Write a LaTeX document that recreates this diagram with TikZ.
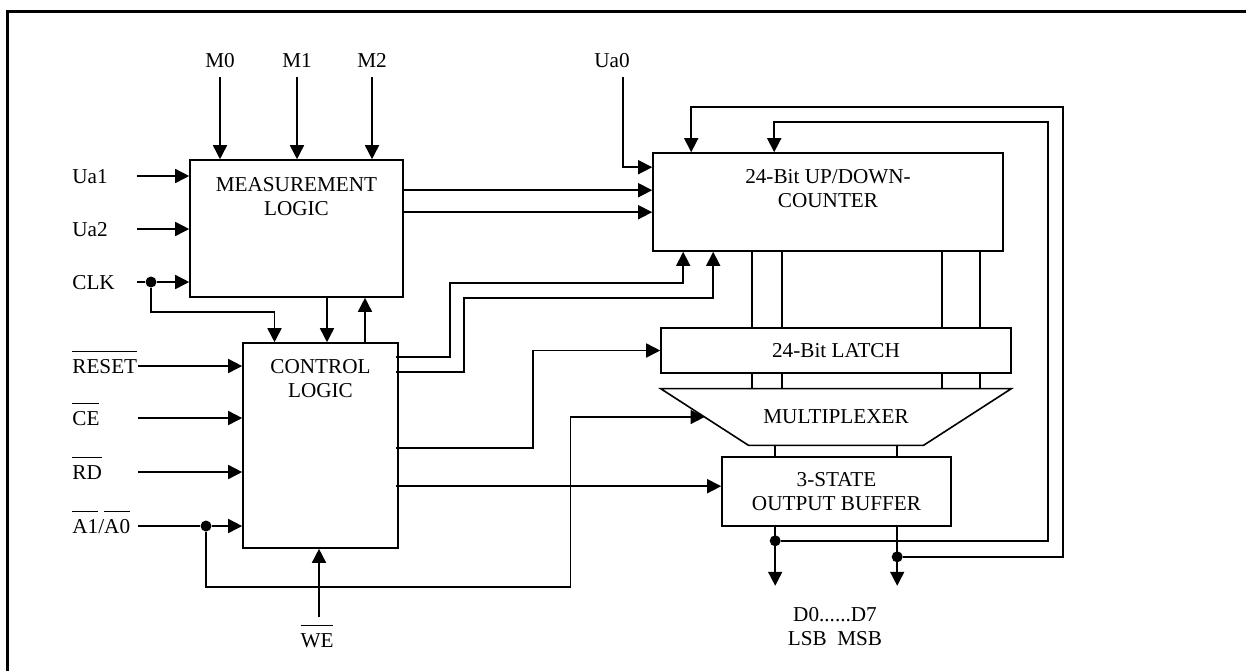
\documentclass[tikz,border=0pt]{standalone}
\usepackage{fontspec}
\setmainfont{Liberation Serif}
\usetikzlibrary{arrows.meta,calc}
\newcommand{\nsig}[1]{$\overline{\mbox{\rule{0pt}{9.5pt}#1}}$}

\begin{document}
\begin{tikzpicture}[x=.5pt,y=-.5pt,font=\fontsize{10.6}{12}\selectfont,
  sig/.style={line width=.8pt,-{Triangle[length=7pt,width=7pt]}},
  wire/.style={line width=.8pt},
  blk/.style={draw,line width=.8pt,inner sep=0pt},
  txt/.style={align=center,inner sep=0pt,anchor=north},
  pin/.style={anchor=base west,inner sep=0pt},
  dot/.style={circle,fill,inner sep=0pt,minimum size=5.5pt}]
  \useasboundingbox (0,0) rectangle (1246,671);
  \draw[line width=1.5pt] (7,671)--(7,11)--(1246,11);

  % blocks
  \node[blk,minimum width=106.5pt,minimum height=68.5pt,
    label={[txt,yshift=-9pt]north:{MEASUREMENT\\LOGIC}}] (meas) at (296.5,228.5) {};
  \node[blk,minimum width=77.5pt,minimum height=102.5pt,
    label={[txt,yshift=-8.5pt]north:{CONTROL\\LOGIC}}] (ctl) at (320.5,445.5) {};
  \node[blk,minimum width=175pt,minimum height=49pt,
    label={[txt,yshift=-8.5pt]north:{24-Bit UP/DOWN-\\COUNTER}}] (cnt) at (828,202) {};
  \node[blk,minimum width=175pt,minimum height=22.5pt] (latch) at (836,350.5) {24-Bit LATCH};
  \node[inner sep=0pt,minimum width=175pt,minimum height=28pt] (mux) at (836,417) {MULTIPLEXER};
  \draw[line width=.8pt] (mux.north west) -- (mux.north east) -- ($(mux.south east)+(-88,0)$)
    -- ($(mux.south west)+(88,0)$) -- cycle;
  \coordinate (muxin) at ($(mux.west)+(44,0)$);
  \node[blk,align=center,minimum width=114.5pt,minimum height=34.5pt] (buf) at (836.5,491.5)
    {3-STATE\\OUTPUT BUFFER};

  % pins on top
  \foreach \n/\t/\x in {m0/M0/220,m1/M1/297,m2/M2/372}{
    \node[anchor=base,inner sep=0pt] (\n) at (\x,67) {\t};
    \coordinate (p\n) at (\x,77);
    \draw[sig] (p\n) -- (p\n |- meas.north);
  }
  \node[anchor=base,inner sep=0pt] (ua0) at (612,67) {Ua0};
  \coordinate (pua0) at (623,77);
  \draw[sig] (pua0) |- ($(cnt.north west)+(0,15)$);

  % pins on the left
  \foreach \n/\t/\y in {ua1/Ua1/176,ua2/Ua2/229,clk/CLK/282}{
    \node[pin] (\n) at (72,\y+7) {\t};
    \coordinate (p\n) at (137,\y);
  }
  \draw[sig] (pua1) -- (pua1 -| meas.west);
  \draw[sig] (pua2) -- (pua2 -| meas.west);
  \node[dot] (clkdot) at (151,282) {};
  \draw[wire] (pclk) -- (clkdot);
  \draw[sig] (clkdot) -- (clkdot -| meas.west);
  \draw[sig] (clkdot) |- ($(ctl.north)+(-46,-30)$) -- ($(ctl.north)+(-46,0)$);

  \foreach \n/\t/\y in {rst/RESET/366,ce/CE/418,rd/RD/472}{
    \node[pin] (\n) at (72,\y+7) {\nsig{\t}};
    \coordinate (p\n) at (138,\y);
    \draw[sig] (p\n) -- (p\n -| ctl.west);
  }
  \node[pin] (a10) at (72,533) {\nsig{A1}/\nsig{A0}};
  \coordinate (pa10) at (138,526);
  \node[dot] (adot) at (206,526) {};
  \draw[wire] (pa10) -- (adot);
  \draw[sig] (adot) -- (adot -| ctl.west);
  \draw[sig] (adot) |- ($(ctl.south)+(250,38)$) |- (muxin);

  \node[anchor=base,inner sep=0pt] (we) at (317,647) {\nsig{WE}};
  \coordinate (pwe) at (319,617);
  \draw[sig] (pwe) -- (pwe |- ctl.south);

  % measurement <-> control
  \draw[sig] ($(meas.south)+(30.5,0)$) -- ($(ctl.north)+(6.5,0)$);
  \draw[sig] ($(ctl.north)+(44.5,0)$) -- ($(meas.south)+(68.5,0)$);

  % measurement -> counter
  \foreach \d in {31,53}{
    \coordinate (q) at ($(meas.north east)+(0,\d)$);
    \draw[sig] (q) -- (q -| cnt.west);
  }

  % control -> counter, latch, buffer
  \draw[sig] ($(ctl.north east)+(-3,15)$) -- ++(54,0) |- ($(cnt.south west)+(31,31)$)
    -- ($(cnt.south west)+(31,0)$);
  \draw[sig] ($(ctl.north east)+(-3,30)$) -- ++(68,0) |- ($(cnt.south west)+(61,46)$)
    -- ($(cnt.south west)+(61,0)$);
  \draw[sig] ($(ctl.north east)+(-3,106)$) -- ++(137,0) |- (latch.west);
  \coordinate (q) at ($(ctl.north east)+(-3,144)$);
  \draw[sig] (q) -- (q -| buf.west);

  % buses
  \foreach \d in {92,122,282,320}{
    \coordinate (q) at ($(latch.north west)+(\d,0)$);
    \draw[wire] (q |- cnt.south) -- (q);
    \draw[wire] (q |- latch.south) -- (q |- mux.north);
  }
  \foreach \d in {54,176}{
    \coordinate (q) at ($(buf.north west)+(\d,0)$);
    \draw[wire] (q |- mux.south) -- (q);
  }

  % outputs and feedback
  \coordinate (o1) at ($(buf.south west)+(54,0)$);
  \coordinate (o2) at ($(buf.south west)+(176,0)$);
  \draw[sig] (o1) -- ($(o1)+(0,59)$);
  \draw[sig] (o2) -- ($(o2)+(0,59)$);
  \node[dot] (fb1) at ($(o1)+(0,14)$) {};
  \node[dot] (fb2) at ($(o2)+(0,30)$) {};
  \draw[sig] (fb1) -- ++(273,0) |- ($(cnt.north west)+(122,-30)$) -- ($(cnt.north west)+(122,0)$);
  \draw[sig] (fb2) -- ++(166,0) |- ($(cnt.north west)+(39,-45)$) -- ($(cnt.north west)+(39,0)$);

  \node[align=center,inner sep=0pt] (dbus) at (835,627) {D0......D7\\LSB\ \ MSB};
\end{tikzpicture}
\end{document}
